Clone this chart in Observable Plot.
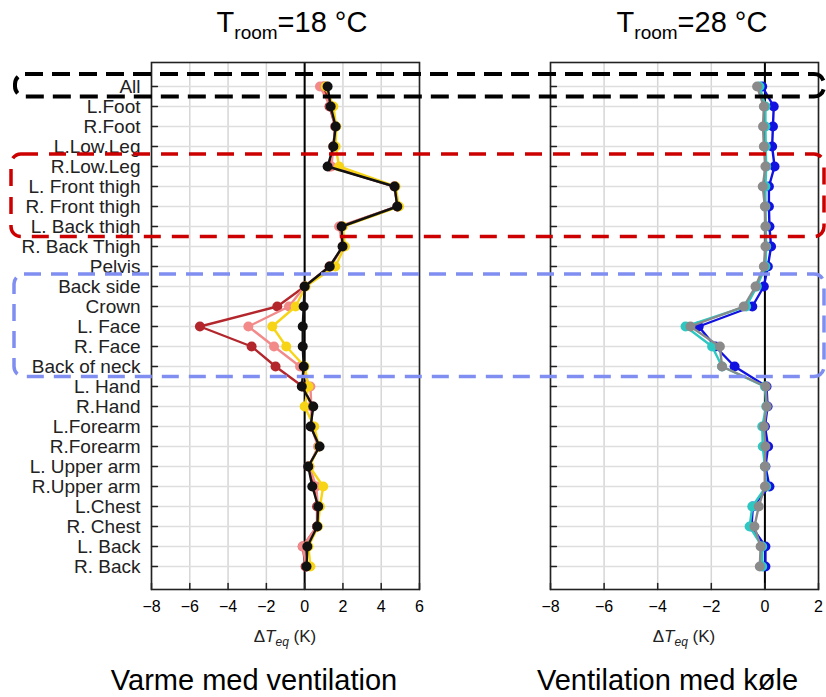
<!DOCTYPE html>
<html><head><meta charset="utf-8">
<script src="https://cdn.jsdelivr.net/npm/d3@7"></script>
<script src="https://cdn.jsdelivr.net/npm/@observablehq/plot@0.6"></script>
<style>
body{margin:0;background:#fff;font-family:"Liberation Sans",Arial,sans-serif;}
#wrap{position:relative;width:826px;height:697px;overflow:hidden;background:#fff;}
#wrap > svg, #wrap > div{position:absolute;}
</style></head><body><div id="wrap"></div>
<script>
// ---- data ----
const parts = ["All","L.Foot","R.Foot","L.Low.Leg","R.Low.Leg","L. Front thigh","R. Front thigh","L. Back thigh","R. Back Thigh","Pelvis","Back side","Crown","L. Face","R. Face","Back of neck","L. Hand","R.Hand","L.Forearm","R.Forearm","L. Upper arm","R.Upper arm","L.Chest","R. Chest","L. Back","R. Back"];
const ticksLeft = [-8,-6,-4,-2,0,2,4,6];
const ticksRight = [-8,-6,-4,-2,0,2];

// Left panel (T_room = 18 °C)
const heatDarkRed = [1.0,1.3,1.6,1.5,1.3,4.7,4.85,1.9,2.0,1.3,0,-1.43,-5.47,-2.77,-1.52,-0.1,0.4,0.35,0.75,0.2,0.52,0.65,0.65,-0.1,0.05];
const heatSalmon  = [0.8,1.35,1.6,1.5,1.4,4.7,4.85,1.8,2.0,1.35,0,-0.82,-2.94,-1.6,-0.24,0.3,0.35,0.35,0.7,0.25,0.6,0.7,0.65,-0.1,0.1];
const heatYellow  = [1.1,1.5,1.65,1.62,1.8,4.75,4.93,2.0,2.1,1.6,0.05,-0.47,-1.69,-0.96,0,0.2,0.0,0.5,0.75,0.25,0.97,0.8,0.7,0.2,0.3];
const heatBlack   = [1.2,1.36,1.62,1.5,1.2,4.7,4.84,1.93,1.98,1.31,0,-0.05,-0.1,-0.1,-0.05,-0.15,0.45,0.31,0.78,0.19,0.4,0.71,0.66,0.14,0.1];

// Right panel (T_room = 28 °C)
const coolBlue = [-0.1,0.33,0.3,0.27,0.36,0.15,0.15,0.17,0.23,0.11,-0.04,-0.47,-2.47,-1.85,-1.13,0.06,0.1,0,0.12,0.02,0.17,-0.45,-0.5,0.02,0.02];
const coolCyan = [-0.2,0.02,0.02,0.03,0.05,0.02,0.02,0.03,0.05,0.02,-0.3,-0.7,-2.96,-1.97,-1.6,0,0.05,-0.1,-0.08,0,0.05,-0.47,-0.57,-0.1,-0.1];
const coolGray = [-0.29,-0.04,-0.07,-0.04,0.02,-0.08,0,0.02,0.02,-0.04,-0.35,-0.79,-2.78,-1.68,-1.6,0.03,0.07,-0.04,0.02,0,0,-0.23,-0.39,-0.16,-0.19];

// highlighted groups (first / last body part)
const boxGroups = [
  {from:"All", to:"All", color:"#000", dash:"18,9", width:4, left:15},
  {from:"R.Low.Leg", to:"L. Back thigh", color:"#cc0000", dash:"17,11", width:3.5, left:11},
  {from:"Back side", to:"Back of neck", color:"#7f8ef0", dash:"17,10", width:3.5, left:14}
];

const leftSeries = [
  {values: heatDarkRed, color:"#b3262c"},
  {values: heatSalmon, color:"#f28a8a"},
  {values: heatYellow, color:"#f7d516"},
  {values: heatBlack, color:"#111111"}
];
const rightSeries = [
  {values: coolBlue, color:"#1212e0"},
  {values: coolCyan, color:"#2ec8c2"},
  {values: coolGray, color:"#8a8a8a"}
];

// ---- drawing ----
const rows = parts.map((p, i) => i);
const tickShape = {draw(ctx, l) { ctx.moveTo(0, 0); ctx.lineTo(0, -l); }};
const TOP = 40;

function panel({series, domain, ticks, labels, width, marginLeft, marginRight}) {
  const marks = [
    Plot.gridX(ticks, {stroke:"#d6d6d6", strokeOpacity:1, strokeWidth:1.5}),
    Plot.gridY(rows, {stroke:"#dedede", strokeOpacity:1, strokeWidth:1.5}),
    Plot.ruleX([0], {stroke:"#000", strokeWidth:2})
  ];
  for (const s of series) {
    const data = s.values.map((v, i) => ({v, i}));
    marks.push(Plot.line(data, {x:"v", y:"i", stroke:s.color, strokeWidth:2.4}));
    marks.push(Plot.dot(data, {x:"v", y:"i", r:5, fill:s.color, stroke:"none"}));
  }
  marks.push(
    Plot.vector(rows, {y: d => d, frameAnchor:"left", length:6, rotate:90, anchor:"start", shape:tickShape, stroke:"#222", strokeWidth:1.3}),
    Plot.vector(ticks, {x: d => d, frameAnchor:"bottom", length:6, rotate:0, anchor:"start", shape:tickShape, stroke:"#222", strokeWidth:1.5}),
    Plot.frame({stroke:"#222", strokeWidth:1.6}),
    Plot.axisX({ticks, tickSize:0, tickPadding:11, fontSize:16, label:null, tickFormat: d => d < 0 ? "\u2212" + Math.abs(d) : String(d)})
  );
  if (labels) {
    marks.push(Plot.axisY(rows, {tickSize:0, tickPadding:11, fontSize:19, fill:"#222", tickFormat: i => parts[i], label:null}));
  }
  return Plot.plot({
    width, height:580, marginLeft, marginRight, marginTop:22, marginBottom:31,
    x:{domain},
    y:{domain:[25.15, -1.2], axis: labels ? undefined : null},
    style:{fontFamily:'"Liberation Sans", Arial, sans-serif', fontSize:"16px", background:"transparent", color:"#000", overflow:"visible"},
    marks
  });
}

const wrap = document.getElementById("wrap");
const left = panel({series:leftSeries, domain:[-8,6], ticks:ticksLeft, labels:true, width:430, marginLeft:151, marginRight:11});
const right = panel({series:rightSeries, domain:[-8,2], ticks:ticksRight, labels:false, width:396, marginLeft:120, marginRight:8});
left.style.left = "0px"; left.style.top = TOP + "px";
right.style.left = "430px"; right.style.top = TOP + "px";
wrap.appendChild(left);
wrap.appendChild(right);

// overlay: titles, axis labels, captions, highlight boxes
const yS = left.scale("y");
const xL = left.scale("x"), xR = right.scale("x");
const cxL = (xL.apply(-8) + xL.apply(6)) / 2;
const cxR = 430 + (xR.apply(-8) + xR.apply(2)) / 2;
const svg = d3.select(wrap).append("svg").attr("width", 826).attr("height", 697)
  .style("left","0px").style("top","0px").style("pointer-events","none")
  .attr("font-family", '"Liberation Sans", Arial, sans-serif');

for (const g of boxGroups) {
  const y0 = TOP + yS.apply(parts.indexOf(g.from) - 0.6);
  const y1 = TOP + yS.apply(parts.indexOf(g.to) + 0.53);
  svg.append("rect").attr("x", g.left).attr("y", y0).attr("width", 824 - g.left).attr("height", y1 - y0)
    .attr("rx", 10).attr("fill", "none").attr("stroke", g.color).attr("stroke-width", g.width)
    .attr("stroke-dasharray", g.dash);
}

function title(cx, value) {
  const t = svg.append("text").attr("x", cx).attr("y", 32).attr("text-anchor","middle").attr("font-size", 29).attr("fill","#000");
  t.append("tspan").text("T");
  t.append("tspan").attr("font-size", 19).attr("dy", 7).text("room");
  t.append("tspan").attr("dy", -7).text("=" + value + " \u00B0C");
}
title(cxL + 7, "18");
title(cxR + 8, "28");

function xlabel(cx) {
  const t = svg.append("text").attr("x", cx).attr("y", 642).attr("text-anchor","middle").attr("font-size", 17).attr("fill","#222");
  t.append("tspan").text("\u0394");
  t.append("tspan").attr("font-style","italic").text("T");
  t.append("tspan").attr("font-style","italic").attr("font-size", 12).attr("dy", 4).text("eq");
  t.append("tspan").attr("dy", -4).text(" (K)");
}
xlabel(cxL);
xlabel(cxR);

svg.append("text").attr("x", 254).attr("y", 690).attr("text-anchor","middle").attr("font-size", 29).attr("fill","#000").text("Varme med ventilation");
svg.append("text").attr("x", 537).attr("y", 690).attr("text-anchor","start").attr("font-size", 29).attr("fill","#000").text("Ventilation med køle");
</script></body></html>
